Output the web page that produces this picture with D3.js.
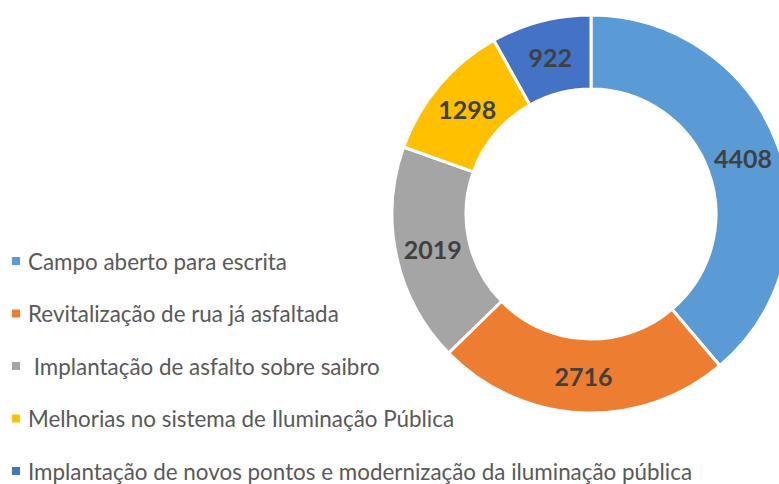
<!DOCTYPE html>
<html>
<head>
<meta charset="utf-8">
<script src="https://cdn.jsdelivr.net/npm/d3@7"></script>
<style>
  html, body { margin: 0; padding: 0; background: #fff; }
  svg { display: block; }
  text { white-space: pre; }
</style>
</head>
<body>
<svg id="chart" width="779" height="484"></svg>
<script>
const categories = [
  "Campo aberto para escrita",
  "Revitalização de rua já asfaltada",
  " Implantação de asfalto sobre saibro",
  "Melhorias no sistema de Iluminação Pública",
  "Implantação de novos pontos e modernização da iluminação pública"
];
const values = [4408, 2716, 2019, 1298, 922];
const colors = ["#5B9BD5", "#ED7D31", "#A5A5A5", "#FFC000", "#4472C4"];

const svg = d3.select("#chart");
const cx = 591, cy = 214, rOuter = 199, rInner = 125;

const pie = d3.pie().sort(null).value(d => d.value);
const data = categories.map((c, i) => ({ name: c, value: values[i], color: colors[i] }));
const arcs = pie(data);

const arc = d3.arc().innerRadius(rInner).outerRadius(rOuter);
const labelArc = d3.arc().innerRadius((rInner + rOuter) / 2).outerRadius((rInner + rOuter) / 2);

const g = svg.append("g").attr("transform", `translate(${cx},${cy})`);
g.selectAll("path.slice")
  .data(arcs)
  .enter().append("path")
  .attr("class", "slice")
  .attr("d", arc)
  .attr("fill", d => d.data.color)
  .attr("stroke", "#fff")
  .attr("stroke-width", 3);

g.selectAll("text.val")
  .data(arcs)
  .enter().append("text")
  .attr("class", "val")
  .attr("transform", d => `translate(${labelArc.centroid(d)})`)
  .attr("text-anchor", "middle")
  .attr("dominant-baseline", "central")
  .attr("font-family", "Lato, 'Open Sans', sans-serif")
  .attr("font-weight", "bold")
  .attr("font-size", 25)
  .attr("fill", "#404040")
  .text(d => d.data.value);

// Legend
const legendY = d3.scalePoint().domain(categories).range([261, 471]);
const lg = svg.append("g");
const items = lg.selectAll("g.item").data(data).enter().append("g")
  .attr("class", "item")
  .attr("transform", d => `translate(0,${legendY(d.name)})`);
items.append("rect")
  .attr("x", 12).attr("y", -4).attr("width", 8).attr("height", 8)
  .attr("fill", d => d.color);
items.append("text")
  .attr("x", 28).attr("y", 0)
  .attr("dominant-baseline", "central")
  .attr("font-family", "Lato, 'Open Sans', sans-serif")
  .attr("font-size", 22.4)
  .attr("fill", "#595959")
  .text(d => d.name);
</script>
</body>
</html>
